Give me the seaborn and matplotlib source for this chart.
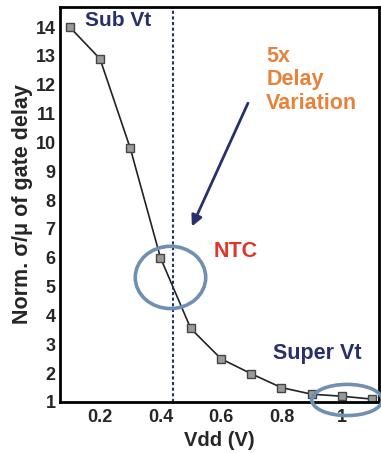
import numpy as np
import pandas as pd
import matplotlib
matplotlib.use('Agg')
import matplotlib.pyplot as plt
from matplotlib.patches import Ellipse
from matplotlib.ticker import MultipleLocator, FixedLocator
import seaborn as sns

# Dados
vdd = [0.1, 0.2, 0.3, 0.4, 0.5, 0.6, 0.7, 0.8, 0.9, 1.0, 1.1]
variacao = [14.0, 12.9, 9.8, 6.0, 3.55, 2.5, 1.98, 1.5, 1.27, 1.2, 1.1]
ticks_x = [0.2, 0.4, 0.6, 0.8, 1.0]
rotulos_x = ['0.2', '0.4', '0.6', '0.8', '1']
ticks_y = list(range(1, 15))

df = pd.DataFrame({'vdd': vdd, 'variacao': variacao})

sns.set_style('white')
plt.rcParams['font.family'] = ['Liberation Sans', 'DejaVu Sans']
plt.rcParams['font.weight'] = 'bold'

azul_escuro = '#27306b'
azul_circulo = '#6f8fb3'
laranja = '#e8823a'
vermelho = '#e0362a'

fig = plt.figure(figsize=(3.81, 4.53), dpi=100)
ax = fig.add_axes([0.157, 0.1126, 0.838, 0.872])

sns.lineplot(data=df, x='vdd', y='variacao', ax=ax, color='#222222', lw=1.2,
             marker='s', markersize=5.5, markerfacecolor='#9a9a9a',
             markeredgecolor='#444444', markeredgewidth=1)

ax.set_xlim(0.067, 1.123)
ax.set_ylim(1, 14.7)

# linha vertical pontilhada
ax.axvline(0.443, color=azul_escuro, ls=(0, (1.5, 1.2)), lw=1.5)

# elipses
ax.add_patch(Ellipse((0.433, 5.32), 0.233, 2.16, fill=False,
                     ec=azul_circulo, lw=2.6, zorder=4))
ax.add_patch(Ellipse((1.017, 1.07), 0.233, 1.08, fill=False,
                     ec=azul_circulo, lw=2.6, zorder=4, clip_on=False))

# seta
ax.annotate('', xy=(0.5, 7.0), xytext=(0.693, 11.45),
            arrowprops=dict(arrowstyle='-|>', color=azul_escuro, lw=2,
                            mutation_scale=16))

# textos
ax.text(0.15, 14.24, 'Sub Vt', color=azul_escuro, fontsize=15,
        fontweight='bold', va='center', ha='left')
ax.text(0.75, 13.35, '5x\nDelay\nVariation', color=laranja, fontsize=15.5,
        fontweight='bold', va='top', ha='left', linespacing=1.15)
ax.text(0.65, 6.23, 'NTC', color=vermelho, fontsize=15.5,
        fontweight='bold', va='center', ha='center')
ax.text(0.917, 2.67, 'Super Vt', color=azul_escuro, fontsize=15.5,
        fontweight='bold', va='center', ha='center')

ax.xaxis.set_major_locator(FixedLocator(ticks_x))
ax.set_xticklabels(rotulos_x)
ax.xaxis.set_minor_locator(MultipleLocator(0.05))
ax.yaxis.set_major_locator(FixedLocator(ticks_y))
ax.yaxis.set_minor_locator(MultipleLocator(0.2))

ax.tick_params(which='both', direction='in', color='black', width=1.3,
               labelsize=13, pad=3)
ax.tick_params(which='major', length=7)
ax.tick_params(which='minor', length=3.5)
ax.tick_params(axis='x', pad=5)
for lbl in ax.get_xticklabels() + ax.get_yticklabels():
    lbl.set_fontweight('bold')

for lado in ax.spines.values():
    lado.set_color('black')
    lado.set_linewidth(2)

ax.set_xlabel('Vdd (V)', fontsize=14.5, fontweight='bold', labelpad=4)
ax.set_ylabel('Norm. σ/μ of gate delay', fontsize=15.5, fontweight='bold', labelpad=2)

plt.savefig('out.png', dpi=100)
